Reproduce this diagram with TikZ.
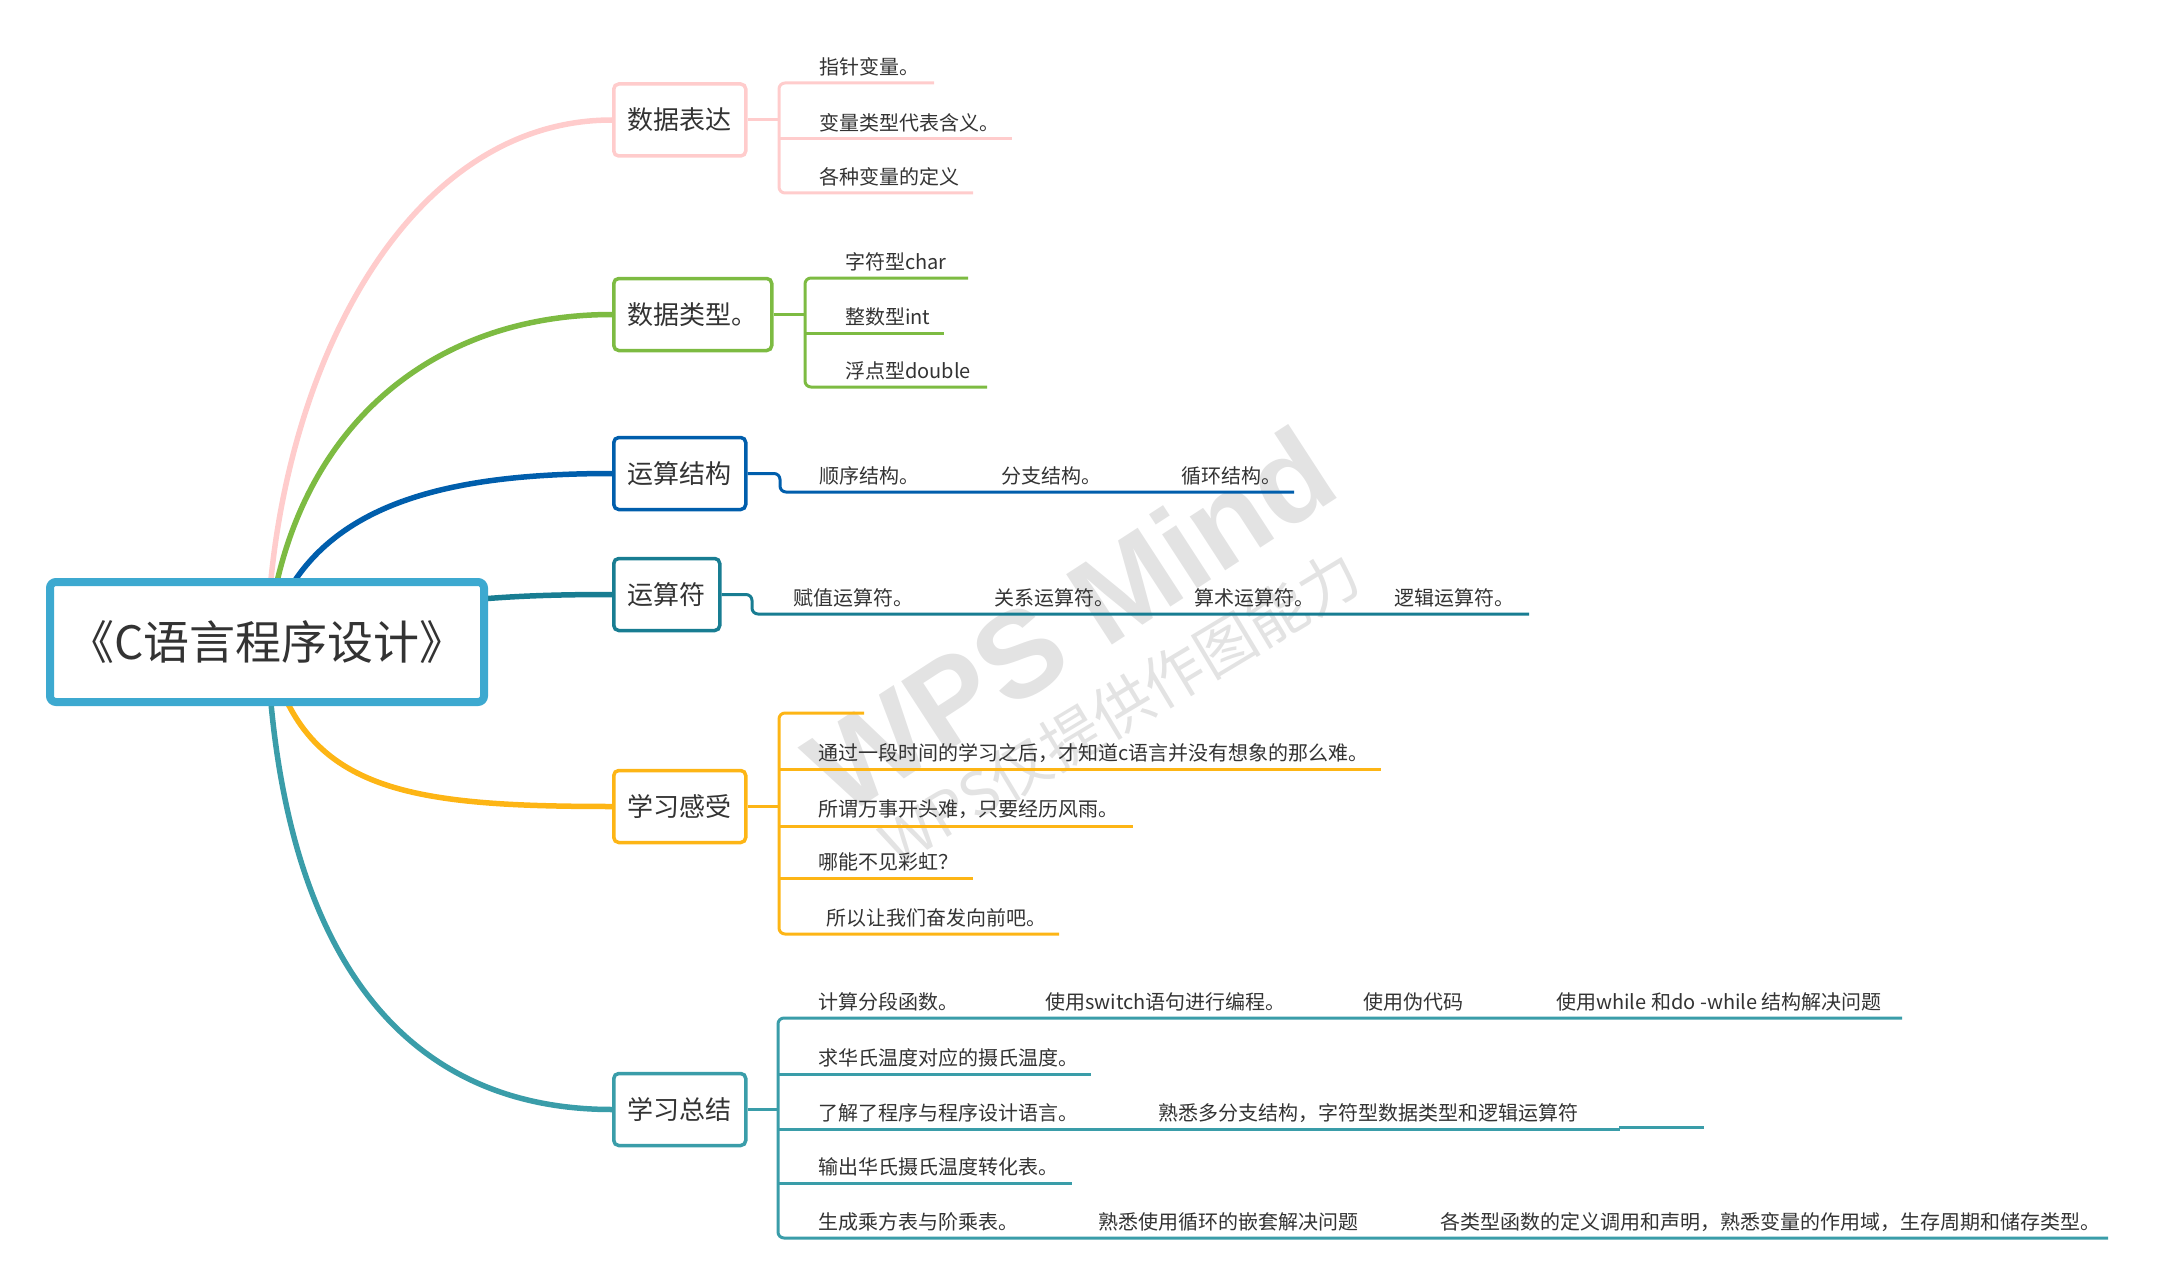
\documentclass[tikz,border=0pt]{standalone}
\usepackage{fontspec}
\setmainfont{Noto Sans CJK SC}
\newfontfamily\wpsfont{Liberation Sans}
\usepackage{xcolor}
\usepackage{tikz}
\usetikzlibrary{backgrounds}

\definecolor{rootc}{HTML}{3DA9D0}
\definecolor{pinkc}{HTML}{FFCCCC}
\definecolor{greenc}{HTML}{7DBB42}
\definecolor{bluec}{HTML}{005EAC}
\definecolor{dtealc}{HTML}{187D92}
\definecolor{orangec}{HTML}{FDB515}
\definecolor{tealc}{HTML}{3A9DA9}
\definecolor{txtc}{HTML}{333333}
\definecolor{wmc}{HTML}{E3E3E3}

\begin{document}
\begin{tikzpicture}[x=1pt,y=-1pt,
        topic/.style={draw=#1, line width=3.5pt, rounded corners=5pt, fill=white, anchor=west,
            minimum height=72pt, inner xsep=14pt, text=txtc, font=\fontsize{26}{26}\selectfont},
        leaf/.style={anchor=west, inner sep=0pt, text=txtc, font=\fontsize{20}{20}\selectfont},
        limb/.style={draw=#1, line width=5.5pt, line cap=round},
        twig/.style={draw=#1, line width=3pt, rounded corners=6pt}]
            \useasboundingbox (0,0) rectangle (2158,1284);

            \node[rotate=33, text=wmc, font=\wpsfont\bfseries\fontsize{122}{122}\selectfont] at (1070,620) (wm1) {WPS Mind};
            \node[rotate=31, text=wmc, font=\fontsize{60}{60}\selectfont] at (1120,708) (wm2) {WPS仅提供作图能力};

            \node[draw=rootc, line width=8pt, rounded corners=6pt, fill=white, minimum width=434pt, minimum height=120pt,
                text=txtc, font=\fontsize{46}{46}\selectfont] at (267,642) (course) {《C语言程序设计》};

            \node[topic=pinkc] at (612,120) (data) {数据表达};
            \node[topic=greenc] at (612,314.5) (type) {数据类型。};
            \node[topic=bluec] at (612,473.5) (struct) {运算结构};
            \node[topic=dtealc] at (612,594.5) (op) {运算符};
            \node[topic=orangec] at (612,806.5) (feel) {学习感受};
            \node[topic=tealc] at (612,1109.5) (sum) {学习总结};

            \begin{pgfonlayer}{background}
            \draw[limb=pinkc] (course.center) .. controls +(7,-262) and +(-210,0) .. (data.west);
            \draw[limb=greenc] (course.center) .. controls +(22,-212) and +(-182,0) .. (type.west);
            \draw[limb=bluec] (course.center) .. controls +(37,-132) and +(-182,0) .. (struct.west);
            \draw[limb=dtealc] (course.center) .. controls +(132,-42) and +(-112,0) .. (op.west);
            \draw[limb=orangec] (course.center) .. controls +(32,148) and +(-212,0) .. (feel.west);
            \draw[limb=tealc] (course.center) .. controls +(12,308) and +(-212,0) .. (sum.west);
            \end{pgfonlayer}

            \coordinate (dataj) at (779,120);
            \coordinate (data1e) at (934,83);
            \coordinate (data2e) at (1012,139);
            \coordinate (data3e) at (973,193);
            \draw[twig=pinkc] (data.east) -- (dataj);
            \draw[twig=pinkc] (data1e) -| (dataj) |- (data3e);
            \draw[twig=pinkc] (dataj |- data2e) -- (data2e);
            \node[leaf] at (819,67) (data1) {指针变量。};
            \node[leaf] at (819,123) (data2) {变量类型代表含义。};
            \node[leaf] at (819,177) (data3) {各种变量的定义};

            \coordinate (typej) at (805,314.5);
            \coordinate (type1e) at (968,278);
            \coordinate (type2e) at (944,333);
            \coordinate (type3e) at (987,387);
            \draw[twig=greenc] (type.east) -- (typej);
            \draw[twig=greenc] (type1e) -| (typej) |- (type3e);
            \draw[twig=greenc] (typej |- type2e) -- (type2e);
            \node[leaf] at (845,262) (type1) {字符型char};
            \node[leaf] at (845,317) (type2) {整数型int};
            \node[leaf] at (845,371) (type3) {浮点型double};

            \coordinate (structj) at (780,492);
            \coordinate (structe) at (1294,492);
            \draw[twig=bluec] (struct.east) -| (structj) -- (structe);
            \node[leaf] at (819,476) (struct1) {顺序结构。};
            \node[leaf] at (1001,476) (struct2) {分支结构。};
            \node[leaf] at (1181,476) (struct3) {循环结构。};

            \coordinate (opj) at (752,614);
            \coordinate (ope) at (1529,614);
            \draw[twig=dtealc] (op.east) -| (opj) -- (ope);
            \node[leaf] at (793,598) (op1) {赋值运算符。};
            \node[leaf] at (994,598) (op2) {关系运算符。};
            \node[leaf] at (1194,598) (op3) {算术运算符。};
            \node[leaf] at (1394,598) (op4) {逻辑运算符。};

            \coordinate (feelj) at (779,806.5);
            \coordinate (feel0e) at (864,713);
            \coordinate (feel1e) at (1381,769);
            \coordinate (feel2e) at (1133,826);
            \coordinate (feel3e) at (973,878);
            \coordinate (feel4e) at (1059,934);
            \draw[twig=orangec] (feel.east) -- (feelj);
            \draw[twig=orangec] (feel0e) -| (feelj) |- (feel4e);
            \draw[twig=orangec] (feelj |- feel1e) -- (feel1e);
            \draw[twig=orangec] (feelj |- feel2e) -- (feel2e);
            \draw[twig=orangec] (feelj |- feel3e) -- (feel3e);
            \node[leaf] at (818,753) (feel1) {通过一段时间的学习之后，才知道c语言并没有想象的那么难。};
            \node[leaf] at (818,809) (feel2) {所谓万事开头难，只要经历风雨。};
            \node[leaf] at (818,862) (feel3) {哪能不见彩虹？};
            \node[leaf] at (826,918) (feel4) {所以让我们奋发向前吧。};

            \coordinate (sumj) at (778,1109.5);
            \coordinate (sum1e) at (1902,1018);
            \coordinate (sum2e) at (1091,1074);
            \coordinate (sum3e) at (1620,1129);
            \coordinate (sum3s) at (1619,1127);
            \coordinate (sum3t) at (1704,1127);
            \coordinate (sum4e) at (1072,1183);
            \coordinate (sum5e) at (2108,1238);
            \draw[twig=tealc] (sum.east) -- (sumj);
            \draw[twig=tealc] (sum1e) -| (sumj) |- (sum5e);
            \draw[twig=tealc] (sumj |- sum2e) -- (sum2e);
            \draw[twig=tealc] (sumj |- sum3e) -- (sum3e);
            \draw[twig=tealc] (sum3s) -- (sum3t);
            \draw[twig=tealc] (sumj |- sum4e) -- (sum4e);
            \node[leaf] at (818,1002) (sum1) {计算分段函数。};
            \node[leaf] at (1045,1002) (sum2) {使用switch语句进行编程。};
            \node[leaf] at (1363,1002) (sum3) {使用伪代码};
            \node[leaf] at (1556,1002) (sum4) {使用while 和do -while 结构解决问题};
            \node[leaf] at (818,1058) (sum5) {求华氏温度对应的摄氏温度。};
            \node[leaf] at (818,1113) (sum6) {了解了程序与程序设计语言。};
            \node[leaf] at (1158,1113) (sum7) {熟悉多分支结构，字符型数据类型和逻辑运算符};
            \node[leaf] at (818,1167) (sum8) {输出华氏摄氏温度转化表。};
            \node[leaf] at (818,1222) (sum9) {生成乘方表与阶乘表。};
            \node[leaf] at (1098,1222) (sum10) {熟悉使用循环的嵌套解决问题};
            \node[leaf] at (1440,1222) (sum11) {各类型函数的定义调用和声明，熟悉变量的作用域，生存周期和储存类型。};
        \end{tikzpicture}
\end{document}
